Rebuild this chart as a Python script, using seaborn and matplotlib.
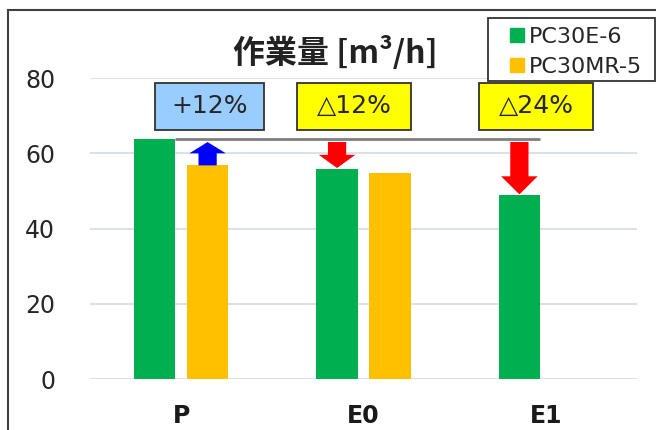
import matplotlib
matplotlib.use("Agg")
import matplotlib.pyplot as plt
import matplotlib.patches as mpatches
from matplotlib.lines import Line2D
import seaborn as sns
import pandas as pd
import numpy as np

# ---- data ----
categories = ["P", "E0", "E1"]
series_names = ["PC30E-6", "PC30MR-5"]
pc30e6 = [63.7, 55.9, 48.9]
pc30mr5 = [56.8, 54.8, None]
change_labels = ["+12%", "\u25b312%", "\u25b324%"]
yticks = [0, 20, 40, 60, 80]
title = "作業量 [m³/h]"

colors = ["#00B050", "#FFC000"]

rows = []
for c, v in zip(categories, pc30e6):
    rows.append({"cat": c, "series": series_names[0], "val": v})
for c, v in zip(categories, pc30mr5):
    if v is not None:
        rows.append({"cat": c, "series": series_names[1], "val": v})
df = pd.DataFrame(rows)

sns.set_theme(style="white")
plt.rcParams["font.family"] = ["DejaVu Sans"]

W, H = 656, 430
fig = plt.figure(figsize=(W / 100, H / 100), dpi=100)
ax = fig.add_axes([90 / W, (H - 379.3) / H, 547 / W, (379.3 - 78) / H])

sns.barplot(data=df, x="cat", y="val", hue="series", order=categories,
            hue_order=series_names, palette=colors, width=0.58, gap=0.22,
            legend=False, ax=ax, saturation=1, edgecolor="none")

ax.set_xlim(-0.5, 2.5)
ax.set_ylim(0, 80)
ax.set_yticks(yticks)
ax.set_yticklabels([str(t) for t in yticks], fontsize=17, color="#262626")
ax.set_xticks(range(len(categories)))
ax.set_xticklabels(categories, fontsize=17, fontweight="bold", color="#1a1a1a")
ax.tick_params(axis="y", length=0, pad=25)
ax.tick_params(axis="x", length=0, pad=18)
ax.set_xlabel("")
ax.set_ylabel("")
for s in ax.spines.values():
    s.set_visible(False)
ax.yaxis.grid(True, color="#DCE1E7", linewidth=1.5)
ax.set_axisbelow(True)

# bar geometry from drawn patches
bars = {}
for cont, name in zip(ax.containers, series_names):
    for p in cont:
        h = p.get_height()
        if h is None or np.isnan(h) or h == 0:
            continue
        cx = p.get_x() + p.get_width() / 2
        bars[(name, int(round(cx)))] = (cx, p.get_x(), p.get_x() + p.get_width(), h)

ref = bars[(series_names[0], 0)]
ref_val = ref[3]
# horizontal reference line
x_end = bars[(series_names[0], 2)][2]
ax.plot([ref[2], x_end], [ref_val, ref_val], color="#7F7F7F", lw=2, zorder=4,
        solid_capstyle="butt")

# arrows
def varrow(x, y0, y1, color, head_len):
    a = mpatches.FancyArrow(x, y0, 0, y1 - y0, width=0.1, head_width=0.2,
                            head_length=head_len, length_includes_head=True,
                            color=color, lw=0, zorder=5)
    ax.add_patch(a)

top = ref_val - 0.7
o = bars[(series_names[1], 0)]
varrow(o[0], o[3], top, "#0000FF", 3.0)
g1 = bars[(series_names[0], 1)]
varrow(g1[0], top, g1[3] + 0.2, "#FF0000", 3.5)
g2 = bars[(series_names[0], 2)]
varrow(g2[0], top, g2[3] + 0.2, "#FF0000", 4.8)

# label boxes
box_cx = [0.155, 0.948, 1.946]
box_w = [0.6, 0.625, 0.625]
box_fc = ["#99CCFF", "#FFFF00", "#FFFF00"]
for cx, bw, fc, lab in zip(box_cx, box_w, box_fc, change_labels):
    r = mpatches.Rectangle((cx - bw / 2, 66.2), bw, 12.5, facecolor=fc,
                           edgecolor="#333333", lw=1.3, zorder=6, clip_on=False)
    ax.add_patch(r)
    ax.text(cx, 72.45, lab, ha="center", va="center", fontsize=18,
            color="#262626", zorder=7)

# title
fig.text(335 / W, 1 - 53 / H, title, ha="center", va="center", fontsize=23,
         fontweight="bold", color="#222222",
         family=["Noto Sans CJK JP", "DejaVu Sans"])

# legend (frame drawn separately)
fig.patches.append(mpatches.Rectangle((488 / W, 1 - 81 / H), 167 / W, 63 / H,
                                      transform=fig.transFigure, facecolor="white",
                                      edgecolor="#333333", lw=1.3, zorder=3))
handles = [Line2D([], [], marker="s", linestyle="none", markersize=9.5,
                  markerfacecolor=c, markeredgecolor=c) for c in colors]
leg = fig.legend(handles, series_names, loc="upper left",
                 bbox_to_anchor=(510 / W, 1 - 27 / H), borderaxespad=0,
                 fontsize=16, frameon=False, handlelength=0.59,
                 handletextpad=0.27, labelspacing=0.43, borderpad=0,
                 labelcolor="#262626")
leg.set_zorder(4)

# outer chart frame
fig.patches.append(mpatches.Rectangle((7.5 / W, -0.1), 1.2, (H - 10) / H + 0.1,
                                      transform=fig.transFigure, fill=False,
                                      edgecolor="#404040", lw=1.5, zorder=0))

fig.savefig("out.png", dpi=100)
